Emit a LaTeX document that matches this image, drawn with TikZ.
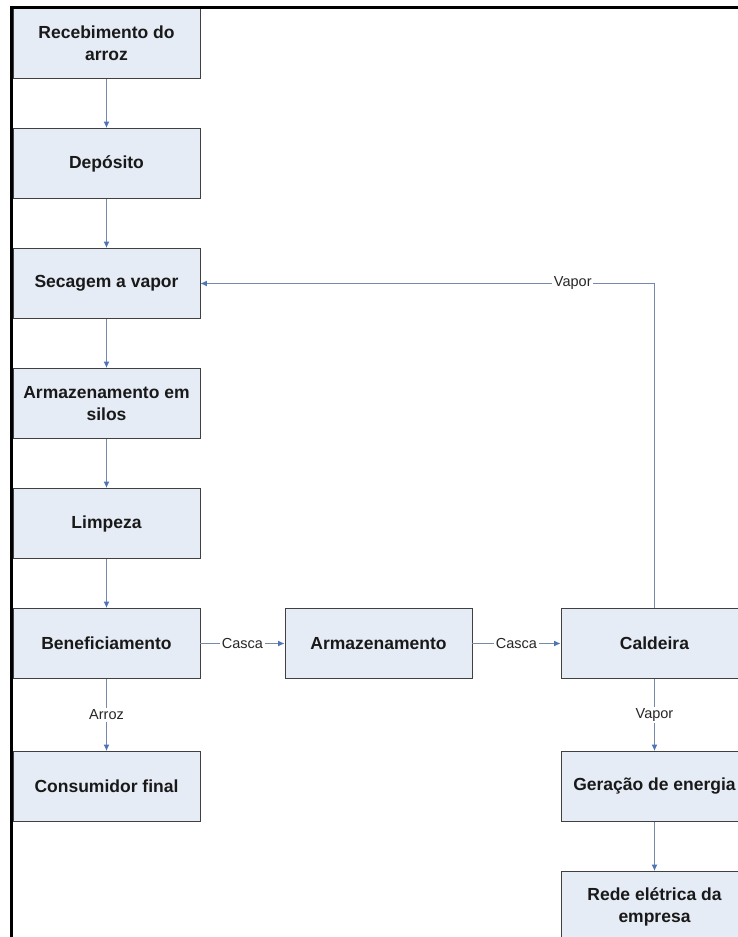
\documentclass[tikz,border=0pt]{standalone}
\usepackage{fontspec}
\setmainfont{Liberation Sans}
\usetikzlibrary{positioning}
\usetikzlibrary{arrows.meta}
\definecolor{boxfill}{HTML}{E6ECF6}
\definecolor{boxline}{HTML}{404040}
\definecolor{conn}{HTML}{7689AA}
\definecolor{tip}{HTML}{4F74B3}
\tikzset{ed/.style={inner sep=1.5pt,font=\fontsize{14.5}{17}\selectfont,fill=white,text=black!85}}
\tikzset{>={Latex[length=6.5pt,width=6pt,color=tip]}}
\tikzset{blk/.style={draw=boxline, line width=0.9pt, fill=boxfill, minimum width=187pt, minimum height=70pt, inner sep=0pt, align=center, text=black!90, font=\bfseries\fontsize{17.5}{22}\selectfont}}
\tikzset{con/.style={->, draw=conn, line width=1.1pt}}

\begin{document}
\begin{tikzpicture}[x=1pt,y=1pt]
\useasboundingbox (0,0) rectangle (738,-937);
\clip (0,0) rectangle (738,-937);
\begin{scope}[on grid]

% main column
\node[blk] (receb) at (106.5,-43.5) {Recebimento do\\arroz};
\node[blk] (depos) [below=120pt of receb] {Depósito};
\node[blk] (secag) [below=120pt of depos] {Secagem a vapor};
\node[blk] (silos) [below=120pt of secag] {Armazenamento em\\silos};
\node[blk] (limp) [below=120pt of silos] {Limpeza};
\node[blk] (benef) [below=120pt of limp] {Beneficiamento};
\node[blk] (cons) [below=143pt of benef] {Consumidor final};

% husk line
\node[blk] (armaz) [right=272pt of benef] {Armazenamento};
\node[blk] (cald) [right=276pt of armaz] {Caldeira};
\node[blk] (geracao) [below=143pt of cald] {Geração de energia};
\node[blk] (rede) [below=120pt of geracao] {Rede elétrica da\\empresa};

\draw[con] (receb) -- (depos);
\draw[con] (depos) -- (secag);
\draw[con] (secag) -- (silos);
\draw[con] (silos) -- (limp);
\draw[con] (limp) -- (benef);
\draw[con] (benef) -- node[ed] {Arroz} (cons);

\draw[con] (benef) -- node[ed] {Casca} (armaz);
\draw[con] (armaz) -- node[ed] {Casca} (cald);
\draw[con] (cald) -- node[ed] {Vapor} (geracao);
\draw[con] (geracao) -- (rede);

\draw[con] (cald.north) |- node[ed, pos=0.59] {Vapor} (secag.east);

\end{scope}

\draw[line width=3pt] (11.5,-937) -- (11.5,-7) -- (738,-7);
\end{tikzpicture}
\end{document}
